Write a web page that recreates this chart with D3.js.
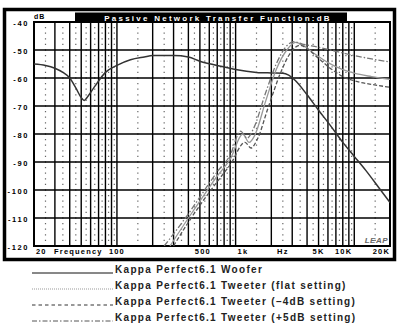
<!DOCTYPE html>
<html>
<head>
<meta charset="utf-8">
<script src="https://cdn.jsdelivr.net/npm/d3@7"></script>
<style>
  body { margin: 0; background: #fff; }
  text { font-family: "Liberation Sans", Arial, sans-serif; font-weight: bold; }
</style>
</head>
<body>
<div id="chart"></div>
<script>
// values (Hz, dB)
const wooferFreq = [20, 25, 30, 35, 40, 45, 50, 53, 57, 65, 80, 100, 130, 170, 200, 300, 400, 500, 700, 1000, 1500, 2000, 2500, 2800, 3200, 4000, 5000, 6300, 8000, 10000, 12500, 16000, 20000]
const wooferDb = [-55, -55.5, -56.5, -58, -60, -63.5, -67, -68, -66.5, -63, -58, -55.5, -53.5, -52.5, -52, -52, -52.5, -54, -55.5, -57, -58, -58.2, -58.3, -59, -61, -66, -71.5, -77, -83, -88, -93, -99, -104.5]

const flatFreq = [280, 400, 500, 700, 900, 1150, 1300, 1450, 1800, 2200, 2700, 3200, 3600, 4500, 6000, 8000, 10000, 14000, 20000]
const flatDb = [-120, -110, -104, -95, -89, -80, -83, -80.5, -68, -57, -50, -47.3, -48, -51, -54.5, -57, -58.3, -59.5, -60.5]

const minus4Freq = [300, 400, 500, 700, 900, 1200, 1350, 1500, 1900, 2400, 2900, 3500, 4000, 5000, 6500, 8000, 10000, 14000, 20000]
const minus4Db = [-120, -111.5, -105.5, -97, -91, -83, -85, -82.5, -70, -58, -51, -48.3, -49.5, -53, -57, -59.5, -61, -62.3, -63.3]

const plus5Freq = [250, 400, 500, 700, 900, 1100, 1250, 1400, 1800, 2200, 2700, 3100, 3600, 5000, 7000, 10000, 14000, 20000]
const plus5Db = [-120, -108.5, -102.5, -93.5, -87.5, -79, -81.5, -78.5, -65, -55, -48.5, -47, -47.8, -49, -50.5, -52, -53.2, -54.3]

const yTicks = [-40, -50, -60, -70, -80, -90, -100, -110, -120]
const xTickFreq = [20, 100, 500, 1000, 5000, 10000, 20000]
const xTickLabels = ["20", "100", "500", "1k", "5K", "10K", "20K"]
const legendLabels = [
  "Kappa Perfect6.1 Woofer",
  "Kappa Perfect6.1 Tweeter (flat setting)",
  "Kappa Perfect6.1 Tweeter (\u20134dB setting)",
  "Kappa Perfect6.1 Tweeter (+5dB setting)"
]
const title = "Passive Network Transfer Function:dB"

// dimensions
const width = 398
const height = 323
const plot = { left: 34, right: 390, top: 22, bottom: 246 }

const x = d3.scaleLog().domain([20, 20000]).range([plot.left, plot.right])
const y = d3.scaleLinear().domain([-120, -40]).range([plot.bottom, plot.top])

const svg = d3.select("#chart").append("svg")
  .attr("width", width)
  .attr("height", height)

// outer frame
svg.append("rect")
  .attr("x", 4.5).attr("y", 9.5)
  .attr("width", 390).attr("height", 250)
  .attr("fill", "#fff")
  .attr("stroke", "#000")
  .attr("stroke-width", 3.5)

// grid: thick lines at 1-9 x decade, dotted half-steps between
const majorF = []
const dotF = []
for (let dec = 10; dec <= 10000; dec *= 10) {
  for (let n = 1; n <= 9; n++) {
    if (n * dec > 20 && n * dec < 20000) majorF.push(n * dec)
    if ((n + 0.5) * dec > 20 && (n + 0.5) * dec < 20000) dotF.push((n + 0.5) * dec)
  }
}
const step = y(-42) - y(-40)

const grid = svg.append("g")
grid.selectAll(".dot")
  .data(dotF)
  .join("line")
    .attr("x1", d => x(d)).attr("x2", d => x(d))
    .attr("y1", plot.top).attr("y2", plot.bottom)
    .attr("stroke", "#666")
    .attr("stroke-width", 1.2)
    .attr("stroke-dasharray", `1.3,${step - 1.3}`)
    .attr("stroke-dashoffset", -(step - 0.65))

grid.selectAll(".vmaj")
  .data(majorF)
  .join("line")
    .attr("x1", d => x(d)).attr("x2", d => x(d))
    .attr("y1", plot.top).attr("y2", plot.bottom)
    .attr("stroke", "#000")
    .attr("stroke-width", 1.4)

grid.selectAll(".hmaj")
  .data(yTicks)
  .join("line")
    .attr("x1", plot.left).attr("x2", plot.right)
    .attr("y1", d => y(d)).attr("y2", d => y(d))
    .attr("stroke", "#000")
    .attr("stroke-width", 1.4)

svg.append("rect")
  .attr("x", plot.left).attr("y", plot.top)
  .attr("width", plot.right - plot.left).attr("height", plot.bottom - plot.top)
  .attr("fill", "none")
  .attr("stroke", "#000")
  .attr("stroke-width", 2)

// title bar
svg.append("rect")
  .attr("x", 75).attr("y", 12.5)
  .attr("width", 272).attr("height", 10)
  .attr("fill", "#000")
svg.append("text")
  .attr("x", 218).attr("y", 20.5)
  .attr("text-anchor", "middle")
  .attr("fill", "#fff")
  .attr("font-size", 8)
  .attr("letter-spacing", 2.25)
  .text(title)
svg.append("text")
  .attr("x", 34).attr("y", 19)
  .attr("font-size", 7)
  .attr("letter-spacing", 1)
  .text("dB")

// y labels
svg.append("g").selectAll("text")
  .data(yTicks)
  .join("text")
    .attr("x", 29)
    .attr("y", d => y(d) + 4)
    .attr("text-anchor", "end")
    .attr("font-size", 7.5)
    .attr("letter-spacing", 1.6)
    .text(d => d)

// x labels
const anchorFor = i => i === 0 || i === 3 ? "start" : (i >= 5 ? "end" : "middle")
const shiftFor = [2, 0, 3, 2, 0, -2, 0]
svg.append("g").selectAll("text")
  .data(xTickFreq)
  .join("text")
    .attr("x", (d, i) => x(d) + shiftFor[i])
    .attr("y", plot.bottom + 8)
    .attr("text-anchor", (d, i) => anchorFor(i))
    .attr("font-size", 7.5)
    .attr("letter-spacing", 1.2)
    .text((d, i) => xTickLabels[i])
svg.append("text")
  .attr("x", 54).attr("y", plot.bottom + 8)
  .attr("font-size", 7.5)
  .attr("letter-spacing", 1.2)
  .text("Frequency")
svg.append("text")
  .attr("x", x(2500)).attr("y", plot.bottom + 8)
  .attr("text-anchor", "middle")
  .attr("font-size", 7.5)
  .attr("letter-spacing", 1.2)
  .text("Hz")

// LEAP logo text
svg.append("text")
  .attr("x", 388).attr("y", 243)
  .attr("text-anchor", "end")
  .attr("font-size", 8)
  .attr("font-style", "italic")
  .attr("letter-spacing", 0.5)
  .attr("fill", "#666")
  .text("LEAP")

// curves
svg.append("clipPath").attr("id", "clip")
  .append("rect")
  .attr("x", plot.left).attr("y", plot.top)
  .attr("width", plot.right - plot.left).attr("height", plot.bottom - plot.top)

const series = [
  { f: wooferFreq, v: wooferDb, color: "#333", w: 1.5, dash: null },
  { f: flatFreq, v: flatDb, color: "#999", w: 1.3, dash: null },
  { f: minus4Freq, v: minus4Db, color: "#555", w: 1.3, dash: "4,2" },
  { f: plus5Freq, v: plus5Db, color: "#777", w: 1.3, dash: "6,2,1.5,2" }
]

const line = d3.line()
  .x(d => x(d[0]))
  .y(d => y(d[1]))
  .curve(d3.curveMonotoneX)

const curves = svg.append("g").attr("clip-path", "url(#clip)")
curves.selectAll("path")
  .data(series)
  .join("path")
    .attr("d", s => line(s.f.map((f, i) => [f, s.v[i]])))
    .attr("fill", "none")
    .attr("stroke", s => s.color)
    .attr("stroke-width", s => s.w)
    .attr("stroke-dasharray", s => s.dash)

// legend
const legendDash = [null, "1,1", "3.5,3", "5,2,1.5,2"]
const legendColor = ["#111", "#999", "#333", "#555"]
const legend = svg.append("g")
legendLabels.forEach((label, i) => {
  const ly = 273 + i * 16
  legend.append("line")
    .attr("x1", 32).attr("x2", 113)
    .attr("y1", ly).attr("y2", ly)
    .attr("stroke", legendColor[i])
    .attr("stroke-width", 1)
    .attr("stroke-dasharray", legendDash[i])
  legend.append("text")
    .attr("x", 115).attr("y", ly)
    .attr("font-size", 10)
    .attr("letter-spacing", 1.3)
    .attr("fill", "#222")
    .text(label)
})
</script>
</body>
</html>
